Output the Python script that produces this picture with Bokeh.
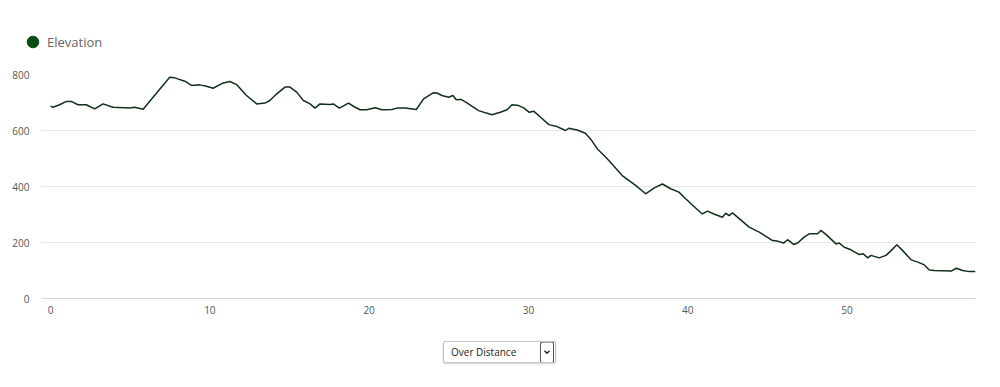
from bokeh.plotting import figure
from bokeh.models import (FixedTicker, Legend, LegendItem, Select, InlineStyleSheet,
                          Range1d, ColumnDataSource)
from bokeh.layouts import column, row
from bokeh.embed import file_html
from bokeh.resources import INLINE

distance_km = [0.0, 0.15, 0.57, 0.99, 1.3, 1.72, 2.24, 2.77, 3.29, 3.92, 4.97, 5.28, 5.81,
               7.48, 7.8, 8.43, 8.85, 9.37, 9.79, 10.2, 10.84, 11.26, 11.68, 12.3, 12.94,
               13.46, 13.77, 14.2, 14.72, 15.03, 15.45, 15.87, 16.29, 16.6, 16.92, 17.55,
               17.75, 18.13, 18.7, 19.12, 19.43, 19.85, 20.38, 20.8, 21.43, 21.74, 22.26,
               22.96, 23.42, 24.04, 24.26, 24.57, 24.99, 25.26, 25.47, 25.77, 26.14, 26.87,
               27.71, 28.24, 28.66, 28.97, 29.39, 29.7, 30.06, 30.33, 30.75, 31.28, 31.8,
               32.33, 32.53, 33.06, 33.58, 33.9, 34.32, 34.95, 35.89, 36.73, 37.36, 37.88,
               38.41, 38.93, 39.45, 39.87, 40.5, 40.92, 41.24, 41.65, 42.18, 42.39, 42.6,
               42.81, 43.33, 43.86, 44.49, 45.33, 45.64, 46.02, 46.27, 46.65, 46.9, 47.31,
               47.63, 48.16, 48.36, 48.68, 49.31, 49.52, 49.83, 50.25, 50.77, 51.02, 51.3,
               51.51, 52.03, 52.45, 52.77, 53.13, 53.5, 54.03, 54.45, 54.86, 55.17, 55.49,
               56.54, 56.86, 57.27, 57.69, 58.07]
elevation_m = [687, 683, 692, 704, 704, 692, 692, 677, 695, 683, 680, 683, 676,
               790, 788, 776, 761, 763, 758, 751, 770, 775, 764, 725, 695,
               698, 707, 731, 755, 755, 737, 707, 695, 680, 695, 693,
               695, 680, 698, 683, 674, 674, 681, 674, 675, 680, 680,
               675, 713, 735, 734, 725, 719, 725, 710, 711, 699, 671,
               656, 665, 674, 692, 689, 681, 665, 669, 648, 621, 614,
               600, 608, 602, 590, 570, 535, 499, 439, 404, 374, 394,
               409, 392, 380, 356, 323, 302, 312, 302, 290, 305, 296,
               306, 281, 255, 237, 207, 205, 198, 210, 193, 198, 219,
               231, 231, 243, 229, 195, 198, 183, 174, 157, 160, 145,
               154, 145, 154, 171, 192, 171, 138, 130, 120, 102, 100,
               98, 108, 100, 96, 96]
x_ticks = [0, 10, 20, 30, 40, 50]
y_ticks = [0, 200, 400, 600, 800]
series_name = "Elevation"
view_options = ["Over Distance", "Over Time"]

FONT = "Open Sans"
LINE_COLOR = "#11301a"
MARKER_COLOR = "#0b4a12"

# legend strip (own figure so the legend is not clipped by the plot frame)
lg = figure(width=984, height=60, output_backend="svg", toolbar_location=None,
            x_axis_type=None, y_axis_type=None,
            min_border_left=0, min_border_right=0, min_border_top=0, min_border_bottom=0,
            x_range=Range1d(0, 1), y_range=Range1d(0, 1))
lg.outline_line_color = None
lg.xgrid.visible = False
lg.ygrid.visible = False
# legend swatch renderer: first sample of the series, which lies outside this strip's view
marker = lg.scatter(x=distance_km[:1], y=elevation_m[:1], marker="circle", size=12,
                    fill_color=MARKER_COLOR, line_color=MARKER_COLOR)
legend = Legend(items=[LegendItem(label=series_name, renderers=[marker])],
                location=(18, 4), orientation="horizontal",
                border_line_color=None, background_fill_alpha=0,
                padding=0, margin=0, spacing=0,
                glyph_width=29, glyph_height=29, label_height=14, label_standoff=-8,
                label_text_font=FONT, label_text_font_size="13px",
                label_text_color="#666666")
lg.add_layout(legend, "center")

p = figure(width=984, height=260, output_backend="svg", toolbar_location=None,
           x_range=Range1d(-0.57, 58.07), y_range=Range1d(0, 800),
           min_border_left=41, min_border_right=9, min_border_top=14, min_border_bottom=22)
p.outline_line_color = None
p.background_fill_color = "white"

src = ColumnDataSource(dict(x=distance_km, y=elevation_m))
p.line("x", "y", source=src, line_color=LINE_COLOR, line_width=1.5)

p.xaxis.ticker = FixedTicker(ticks=x_ticks)
p.yaxis.ticker = FixedTicker(ticks=y_ticks)
for ax in (p.xaxis[0], p.yaxis[0]):
    ax.major_tick_line_color = None
    ax.minor_tick_line_color = None
    ax.major_label_text_font = FONT
    ax.major_label_text_font_size = "10px"
    ax.major_label_text_color = "#4d5a55"
p.xaxis.axis_line_color = "#ccd6eb"
p.xaxis.major_label_standoff = 1
p.yaxis.axis_line_color = None
p.yaxis.major_label_standoff = 6

p.xgrid.grid_line_color = None
p.ygrid.grid_line_color = "#e6e6e6"
p.ygrid.grid_line_width = 1

chev = ("data:image/svg+xml;utf8,<svg xmlns='http://www.w3.org/2000/svg' width='14' height='21'>"
        "<rect x='0.5' y='0.5' width='13' height='20' rx='2' fill='white' stroke='%23555'/>"
        "<path d='M4.5 9 L7 11.5 L9.5 9' stroke='%23222' fill='none' stroke-width='1.4'/></svg>")
css = InlineStyleSheet(css="""
select, select.bk-input, select:not([multiple]).bk-input {
  height: 22px !important; min-height: 22px !important; line-height: 20px;
  font-size: 10px !important; font-family: 'Open Sans', sans-serif !important; color: #222;
  padding: 0 20px 0 7px !important; border: 1px solid #c4c4c4 !important; border-radius: 2px !important;
  box-shadow: 0 1px 2px rgba(0,0,0,0.18);
  -webkit-appearance: none; appearance: none;
  background-color: white !important;
  background-image: url("%s") !important;
  background-repeat: no-repeat !important;
  background-position: right 1px center !important;
  background-size: 14px 21px !important;
}
""" % chev)
select = Select(options=view_options, value=view_options[0], width=113,
                margin=(21, 0, 0, 443), stylesheets=[css])

layout = column(row(lg), p, select, width=984)
open("out.html", "w").write(file_html(layout, INLINE))
